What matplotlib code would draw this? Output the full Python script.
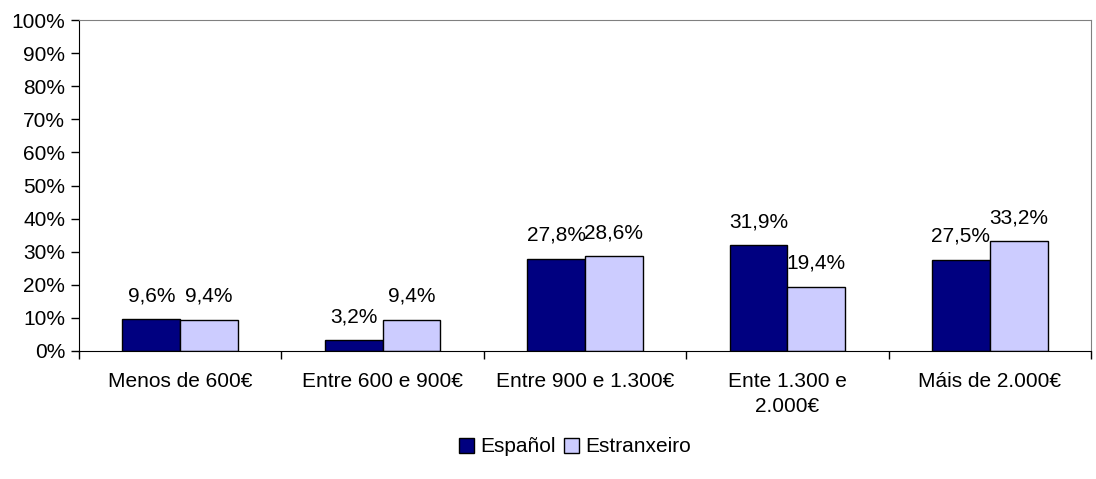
import matplotlib
matplotlib.use("Agg")
import matplotlib.pyplot as plt
import numpy as np

# Datos
categorias = ["Menos de 600€", "Entre 600 e 900€", "Entre 900 e 1.300€",
              "Ente 1.300 e\n2.000€", "Máis de 2.000€"]
espanol = [9.6, 3.2, 27.8, 31.9, 27.5]
estranxeiro = [9.4, 9.4, 28.6, 19.4, 33.2]
series = ["Español", "Estranxeiro"]

plt.rcParams['font.family'] = ['Liberation Sans', 'DejaVu Sans']
fs = 15

fig = plt.figure(figsize=(10.96, 4.79), dpi=100)
ax = fig.add_axes([79 / 1096, 1 - 351 / 479, (1091 - 79) / 1096, (351 - 20) / 479])

x = np.arange(len(categorias))
w = 1 / 3.5
b1 = ax.bar(x - w / 2, espanol, w, color="#000080", edgecolor="black", linewidth=1, label=series[0])
b2 = ax.bar(x + w / 2, estranxeiro, w, color="#CCCCFF", edgecolor="black", linewidth=1, label=series[1])

for barras, vals in ((b1, espanol), (b2, estranxeiro)):
    for r, v in zip(barras, vals):
        ax.annotate(f"{v:.1f}%".replace(".", ","), (r.get_x() + r.get_width() / 2, v),
                    xytext=(0, 14), textcoords="offset pixels",
                    ha="center", va="bottom", fontsize=fs)

ax.set_xlim(-0.5, len(categorias) - 0.5)
ax.set_ylim(0, 100)
ax.set_yticks(np.arange(0, 101, 10))
ax.set_yticklabels([f"{t}%" for t in range(0, 101, 10)], fontsize=fs)

ax.set_xticks(np.arange(-0.5, len(categorias), 1))
ax.set_xticklabels([])
ax.set_xticks(x, minor=True)
ax.set_xticklabels(categorias, minor=True, fontsize=fs, linespacing=1.4)
ax.tick_params(axis="x", which="minor", length=0, pad=15)
ax.tick_params(axis="x", which="major", length=6, width=1, color="black", direction="out")
ax.tick_params(axis="y", length=6, width=1, direction="out", pad=4)

for s in ("top", "right"):
    ax.spines[s].set_color("#808080")
for s in ("left", "bottom"):
    ax.spines[s].set_color("black")

fig.legend(handles=[b1, b2], labels=series, loc="center", bbox_to_anchor=(575 / 1096, 1 - 447 / 479),
           ncol=2, frameon=False, fontsize=fs, handlelength=0.7, handleheight=0.7,
           handletextpad=0.3, columnspacing=0.4)

fig.savefig("out.png", dpi=100)
